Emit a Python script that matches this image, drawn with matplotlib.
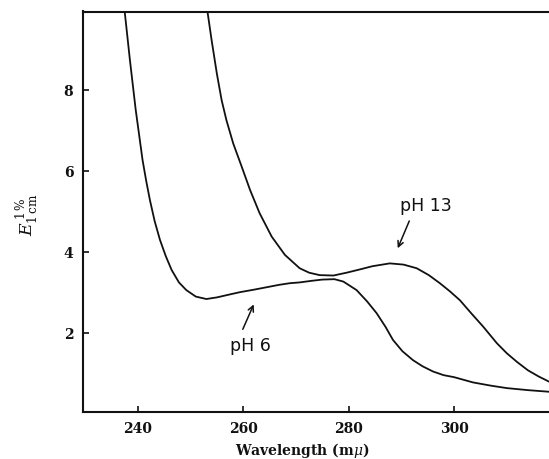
import matplotlib
matplotlib.use("Agg")
import matplotlib.pyplot as plt

# pH 6 curve
ph6_x = [237.5, 238.5, 239.6, 240.9, 241.6, 242.3, 243.2, 244.2, 245.3, 246.4,
         247.8, 249.2, 251.0, 253.0, 255.0, 257.0, 259.4, 262.0, 264.4, 266.8,
         268.8, 270.7, 273.0, 275.0, 277.3, 279.0, 281.5, 283.5, 285.3, 287.0,
         288.4, 290.2, 292.2, 294.0, 296.0, 298.0, 300.0, 303.6, 307.0, 310.0,
         314.0, 318.0]
ph6_y = [9.95, 8.74, 7.51, 6.27, 5.75, 5.28, 4.76, 4.30, 3.90, 3.56,
         3.25, 3.06, 2.90, 2.84, 2.88, 2.94, 3.01, 3.07, 3.13, 3.19,
         3.23, 3.25, 3.29, 3.32, 3.33, 3.27, 3.06, 2.78, 2.49, 2.15,
         1.83, 1.55, 1.33, 1.18, 1.05, 0.96, 0.91, 0.78, 0.70, 0.64,
         0.59, 0.55]

# pH 13 curve
ph13_x = [253.2, 254.0, 255.0, 255.9, 256.8, 258.1, 259.7, 261.3, 263.1, 265.4,
          267.9, 270.7, 272.5, 274.5, 277.1, 279.6, 282.1, 284.5, 287.8, 290.4,
          292.9, 295.2, 297.3, 299.2, 301.1, 303.3, 305.5, 308.1, 310.0, 311.9,
          314.0, 316.0, 318.0]
ph13_y = [9.95, 9.23, 8.40, 7.75, 7.26, 6.68, 6.11, 5.53, 4.96, 4.38,
          3.93, 3.60, 3.49, 3.43, 3.42, 3.49, 3.57, 3.65, 3.72, 3.69,
          3.60, 3.43, 3.23, 3.03, 2.81, 2.48, 2.16, 1.75, 1.50, 1.29,
          1.08, 0.93, 0.80]

x_ticks = [240, 260, 280, 300]
y_ticks = [2, 4, 6, 8]

plt.rcParams["mathtext.fontset"] = "dejavuserif"

fig = plt.figure(figsize=(5.49, 4.59), dpi=100)
ax = fig.add_axes([83 / 549, 1 - 412 / 459, 1 - 83 / 549, (412 - 11.5) / 459])

ax.plot(ph6_x, ph6_y, color="#111111", lw=1.3, solid_capstyle="round",
        solid_joinstyle="round")
ax.plot(ph13_x, ph13_y, color="#111111", lw=1.3, solid_capstyle="round",
        solid_joinstyle="round")

ax.set_xlim(229.6, 318.0)
ax.set_ylim(0.05, 9.94)

ax.set_xticks(x_ticks)
ax.set_yticks(y_ticks)
ax.tick_params(direction="in", length=4, width=1.2, color="#111111", pad=7,
               labelsize=10)
for lab in ax.get_xticklabels() + ax.get_yticklabels():
    lab.set_fontfamily("DejaVu Serif")
    lab.set_fontweight("bold")
    lab.set_color("#111111")

for s in ["left", "bottom", "top"]:
    ax.spines[s].set_linewidth(1.5)
    ax.spines[s].set_color("#111111")
ax.spines["right"].set_visible(False)

fig.text(302 / 549, 1 - 450 / 459, r"Wavelength (m$\mu$)", ha="center",
         va="center", fontsize=10, fontweight="bold", family="DejaVu Serif",
         color="#111111")
fig.text(28 / 549, 1 - 215 / 459, r"$E^{\,1\,\%}_{1\,\mathrm{cm}}$",
         rotation=90, ha="center", va="center", fontsize=12.5, color="#111111")

# annotations
ax.text(294.6, 5.14, "pH 13", ha="center", va="center", fontsize=12.5,
        family="DejaVu Sans", color="#111111")
ax.annotate("", xy=(289.1, 4.03), xytext=(291.7, 4.83),
            arrowprops=dict(arrowstyle="->", lw=1.1, color="#111111"))
ax.text(261.3, 1.68, "pH 6", ha="center", va="center", fontsize=12.5,
        family="DejaVu Sans", color="#111111")
ax.annotate("", xy=(262.2, 2.77), xytext=(259.7, 2.03),
            arrowprops=dict(arrowstyle="->", lw=1.1, color="#111111"))

fig.savefig("out.png", dpi=100)
